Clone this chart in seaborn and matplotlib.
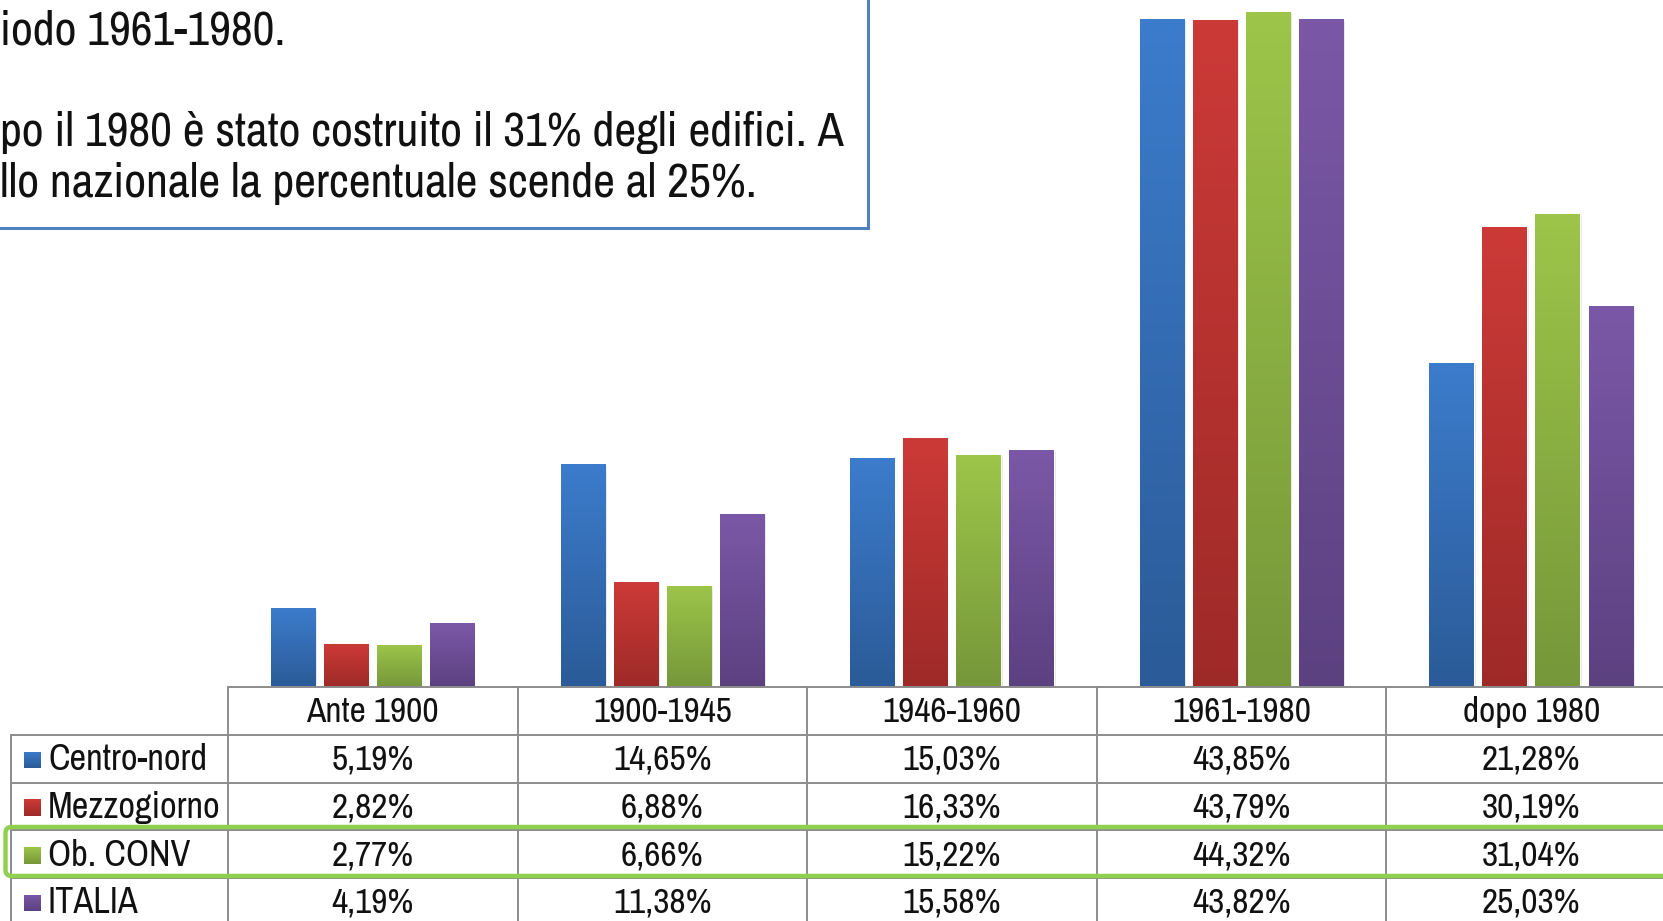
import numpy as np
import pandas as pd
import matplotlib
matplotlib.use("Agg")
import matplotlib.pyplot as plt
import seaborn as sns
from matplotlib import font_manager
from matplotlib.patches import Rectangle, FancyBboxPatch
from matplotlib.colors import to_rgb

# ---------------- data ----------------
periods = ["Ante 1900", "1900-1945", "1946-1960", "1961-1980", "dopo 1980"]
series = ["Centro-nord", "Mezzogiorno", "Ob. CONV", "ITALIA"]
centro_nord = [5.19, 14.65, 15.03, 43.85, 21.28]
mezzogiorno = [2.82, 6.88, 16.33, 43.79, 30.19]
ob_conv = [2.77, 6.66, 15.22, 44.32, 31.04]
italia = [4.19, 11.38, 15.58, 43.82, 25.03]
values = [centro_nord, mezzogiorno, ob_conv, italia]
note_lines = ["iodo 1961-1980.",
              "po il 1980 è stato costruito il 31% degli edifici. A",
              "llo nazionale la percentuale scende al 25%."]

top_colors = ["#3C7CCC", "#CC3A37", "#9DC549", "#7B58A7"]
bottom_colors = ["#2B5B98", "#9E2A28", "#76973A", "#5C4181"]

rows = []
for s, vals in zip(series, values):
    for p, v in zip(periods, vals):
        rows.append({"period": p, "series": s, "value": v})
df = pd.DataFrame(rows)

def fmt(v):
    return f"{v:.2f}".replace(".", ",") + "%"

def grad(ctop, cbot, n=64):
    a, b = np.array(to_rgb(ctop)), np.array(to_rgb(cbot))
    t = np.linspace(0, 1, n)[:, None]
    return (a * (1 - t) + b * t)[:, None, :]

# pick a narrow font if one is installed
names = sorted({f.name for f in font_manager.fontManager.ttflist})
narrow = [n for n in names if ("Narrow" in n or "Condensed" in n) and "Mono" not in n]
if narrow:
    family = narrow[0]
elif "Roboto" in names:
    family = "Roboto"
else:
    family = "Liberation Sans"

# ---------------- figure ----------------
sns.set_theme(style="white")
plt.rcParams["font.family"] = [family, "DejaVu Sans"]

W, H = 1663, 921
fig = plt.figure(figsize=(W / 100, H / 100), dpi=100)
fig.patch.set_facecolor("white")
renderer = fig.canvas.get_renderer()

def fit_size(sample, target_px, ref=20):
    t = fig.text(0, 0, sample, fontsize=ref)
    w = t.get_window_extent(renderer).width
    t.remove()
    return ref * target_px / w

base_y = 687.3
px_per_unit = 15.24
col_left = 228.0
col_w = 289.6

ax = fig.add_axes([col_left / W, (H - base_y) / H, 5 * col_w / W, base_y / H])
sns.barplot(data=df, x="period", y="value", hue="series", order=periods,
            hue_order=series, palette=top_colors, width=0.733, gap=0.16,
            saturation=1, legend=False, ax=ax, errorbar=None)
ylim = (0, base_y / px_per_unit)
ax.set_xlim(-0.5, 4.5)
ax.set_ylim(*ylim)
for i, cont in enumerate(ax.containers):
    for bar in cont:
        x0, w, h = bar.get_x(), bar.get_width(), bar.get_height()
        ax.add_patch(Rectangle((x0 + 0.006, -0.1), w, h, facecolor="#000000",
                               alpha=0.10, edgecolor="none", zorder=bar.get_zorder() - 0.1))
        im = ax.imshow(grad(top_colors[i], bottom_colors[i]), extent=(x0, x0 + w, 0, h),
                       origin="upper", aspect="auto", interpolation="bilinear",
                       zorder=bar.get_zorder() + 0.1)
        im.set_clip_path(bar)
ax.set_xlim(-0.5, 4.5)
ax.set_ylim(*ylim)
ax.axis("off")

# ---------------- overlay: table + note box ----------------
ov = fig.add_axes([0, 0, 1, 1], zorder=5)
ov.set_xlim(0, W)
ov.set_ylim(H, 0)
ov.axis("off")
ov.patch.set_alpha(0)

line_c = "#8C8C8C"
lw = 1.4
row_h = 47.7
tab_left = 10.6
right = W + 5
rows_y = [base_y + row_h * k for k in range(6)]

ov.plot([col_left, right], [base_y, base_y], color=line_c, lw=lw)
for y in rows_y[1:5]:
    ov.plot([tab_left, right], [y, y], color=line_c, lw=lw)
for k in range(5):
    x = col_left + k * col_w
    ov.plot([x, x], [base_y, H + 5], color=line_c, lw=lw)
ov.plot([tab_left, tab_left], [rows_y[1], H + 5], color=line_c, lw=lw)

fs_tab = fit_size("1961-1980", 139)
fs_lab = fit_size("Mezzogiorno", 172)
for k, p in enumerate(periods):
    ov.text(col_left + (k + 0.5) * col_w, base_y + row_h / 2 + 1, p, ha="center",
            va="center", fontsize=fs_tab, color="#111111")
for r, (s, vals) in enumerate(zip(series, values)):
    yc = rows_y[r + 1] + row_h / 2 + 1
    sq = 16.5
    sx, sy = 23.5, yc - sq / 2
    rect = Rectangle((sx, sy), sq, sq, facecolor="none", edgecolor="none")
    ov.add_patch(rect)
    im = ov.imshow(grad(top_colors[r], bottom_colors[r]), extent=(sx, sx + sq, sy + sq, sy),
                   origin="upper", aspect="auto", interpolation="bilinear", zorder=3)
    im.set_clip_path(rect)
    ov.text(48, yc, s, ha="left", va="center", fontsize=fs_lab, color="#111111")
    for k, v in enumerate(vals):
        ov.text(col_left + (k + 0.5) * col_w, yc, fmt(v), ha="center", va="center",
                fontsize=fs_tab, color="#111111")

# highlight box around Ob. CONV row
ov.add_patch(FancyBboxPatch((5.5, 827), W + 40, 49, boxstyle="round,pad=0,rounding_size=6",
                            facecolor="none", edgecolor="#8FD14F", lw=3.2, zorder=6))

# note box
ov.add_patch(Rectangle((-20, -20), 867.5 + 20, 228 + 20, facecolor="white",
                       edgecolor="#4F81BD", lw=2.2, zorder=4))
fs_note = fit_size(note_lines[1], 846)
for txt, yb in zip(note_lines, [44.5, 146, 197]):
    ov.text(0, yb, txt, ha="left", va="baseline", fontsize=fs_note, color="#111111", zorder=7)

ov.set_xlim(0, W)
ov.set_ylim(H, 0)

fig.savefig("out.png", dpi=100)
